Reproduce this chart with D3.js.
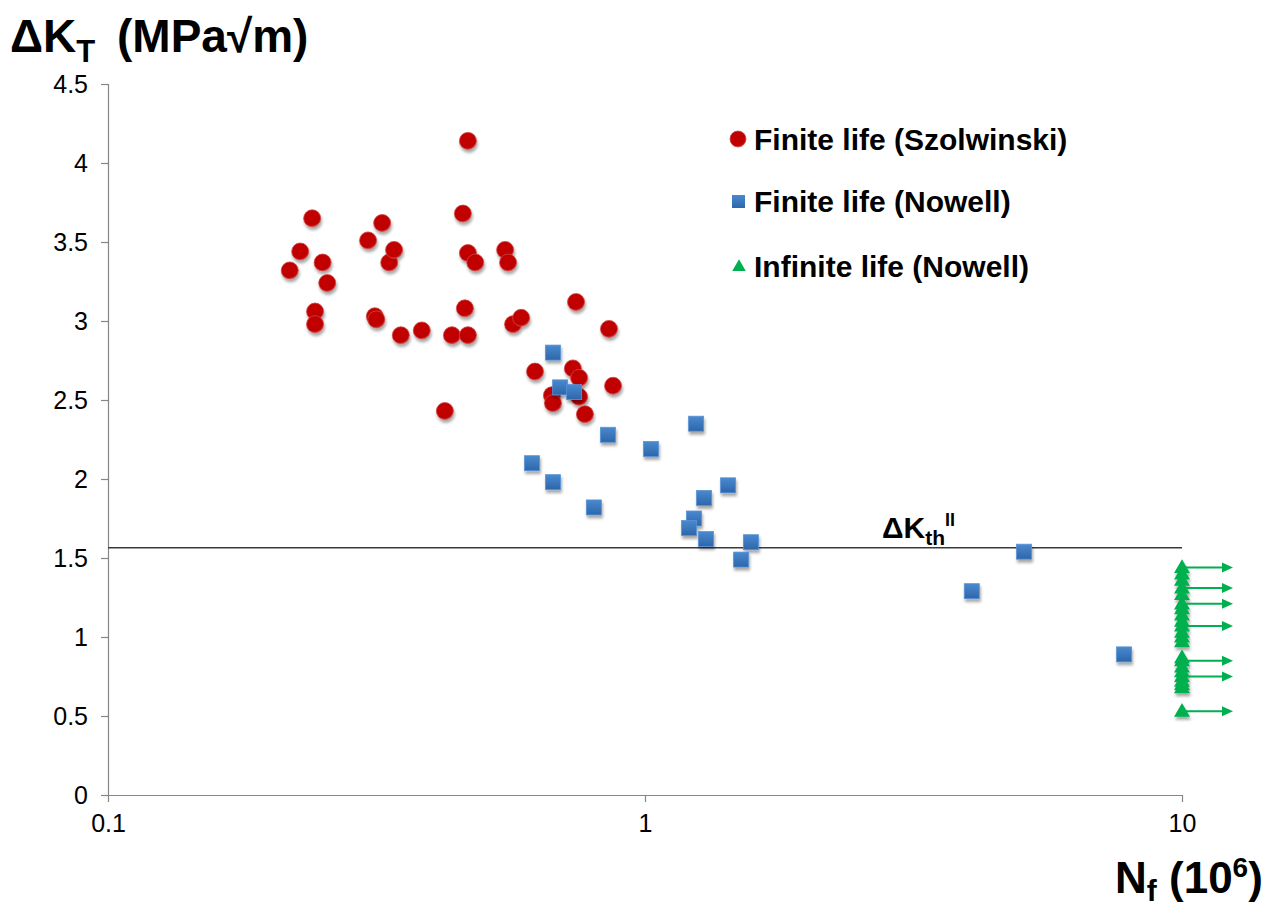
<!DOCTYPE html>
<html><head><meta charset="utf-8">
<script src="https://cdn.jsdelivr.net/npm/d3@7"></script>
<style>
body{margin:0;background:#fff;}
svg{display:block;font-family:"Liberation Sans",Arial,sans-serif;}
</style>
</head><body>
<svg id="chart" width="1272" height="908"></svg>
<script>
// ---------- data ----------
const xTicks = [0.1, 1, 10];
const xTickLabels = ["0.1", "1", "10"];
const yTicks = [0, 0.5, 1, 1.5, 2, 2.5, 3, 3.5, 4, 4.5];
const yTickLabels = ["0", "0.5", "1", "1.5", "2", "2.5", "3", "3.5", "4", "4.5"];

// Finite life (Szolwinski)
const szolwinskiN  = [0.218, 0.228, 0.240, 0.243, 0.243, 0.251, 0.256, 0.305, 0.314, 0.316, 0.324, 0.334, 0.341, 0.351, 0.384, 0.424, 0.437, 0.458, 0.462, 0.468, 0.468, 0.468, 0.483, 0.549, 0.556, 0.568, 0.588, 0.624, 0.671, 0.674, 0.734, 0.744, 0.754, 0.754, 0.773, 0.857, 0.872];
const szolwinskiDK = [3.32,  3.44,  3.65,  3.06,  2.98,  3.37,  3.24,  3.51,  3.03,  3.01,  3.62,  3.37,  3.45,  2.91,  2.94,  2.43,  2.91,  3.68,  3.08,  4.14,  3.43,  2.91,  3.37,  3.45,  3.37,  2.98,  3.02,  2.68,  2.53,  2.48,  2.70,  3.12,  2.64,  2.52,  2.41,  2.95,  2.59];

// Finite life (Nowell)
const nowellFiniteN  = [0.674, 0.695, 0.738, 0.853, 1.026, 1.245, 0.616, 0.674, 0.803, 1.428, 1.288, 1.234, 1.208, 1.299, 1.575, 1.510, 5.08, 4.06, 7.80];
const nowellFiniteDK = [2.80,  2.58,  2.55,  2.28,  2.19,  2.35,  2.10,  1.98,  1.82,  1.96,  1.88,  1.75,  1.69,  1.62,  1.60,  1.49,  1.54, 1.29, 0.89];

// Infinite life (Nowell) - run-outs at 10 x 10^6 cycles
const nowellInfiniteN  = [10, 10, 10, 10, 10, 10, 10, 10, 10, 10, 10, 10, 10, 10, 10, 10, 10, 10, 10, 10, 10, 10];
const nowellInfiniteDK = [1.44, 1.40, 1.36, 1.31, 1.27, 1.21, 1.18, 1.14, 1.10, 1.07, 1.03, 1.00, 0.97, 0.87, 0.85, 0.81, 0.78, 0.75, 0.72, 0.70, 0.68, 0.53];
const runoutDK = [1.44, 1.31, 1.21, 1.07, 0.85, 0.75, 0.53];

const thresholdDK = 1.565;
const legendLabels = ["Finite life (Szolwinski)", "Finite life (Nowell)", "Infinite life (Nowell)"];

// ---------- chart ----------
const svg = d3.select("#chart");
const x = d3.scaleLog().domain([0.1, 10]).range([108, 1182]);
const y = d3.scaleLinear().domain([0, 4.5]).range([795, 84]);

const defs = svg.append("defs");
const f = defs.append("filter").attr("id", "shadow").attr("x", "-50%").attr("y", "-50%").attr("width", "200%").attr("height", "200%");
f.append("feDropShadow").attr("dx", 1).attr("dy", 3).attr("stdDeviation", 1.6).attr("flood-color", "#000").attr("flood-opacity", 0.35);

const gRed = defs.append("radialGradient").attr("id", "redGrad").attr("cx", "45%").attr("cy", "40%").attr("r", "60%");
gRed.append("stop").attr("offset", "0%").attr("stop-color", "#c40000");
gRed.append("stop").attr("offset", "85%").attr("stop-color", "#bd0000");
gRed.append("stop").attr("offset", "100%").attr("stop-color", "#d23a3a");

const gBlue = defs.append("linearGradient").attr("id", "blueGrad").attr("x1", 0).attr("y1", 0).attr("x2", 0).attr("y2", 1);
gBlue.append("stop").attr("offset", "0%").attr("stop-color", "#4a89cf");
gBlue.append("stop").attr("offset", "100%").attr("stop-color", "#2d66aa");

// axes
const axisColor = "#868686";
const yAxis = svg.append("g").attr("transform", "translate(108,0)")
  .call(d3.axisLeft(y).tickValues(yTicks).tickFormat((d, i) => yTickLabels[i]).tickSize(7).tickPadding(13));
const xAxis = svg.append("g").attr("transform", "translate(0,795)")
  .call(d3.axisBottom(x).tickValues(xTicks).tickFormat((d, i) => xTickLabels[i]).tickSize(7).tickPadding(12));
[yAxis, xAxis].forEach(a => {
  a.select(".domain").attr("stroke", axisColor).attr("stroke-width", 1.2);
  a.selectAll(".tick line").attr("stroke", axisColor).attr("stroke-width", 1.2);
  a.selectAll("text").attr("fill", "#000").style("font-size", "25px").style("font-family", '"Liberation Sans",Arial,sans-serif');
});
// axis lines without outer ticks
xAxis.select(".domain").attr("d", `M${x(0.1)},0.5H${x(10)}`);
yAxis.select(".domain").attr("d", `M0.5,${y(4.5)}V${y(0)}`);

// threshold line
svg.append("line")
  .attr("x1", x(0.1)).attr("x2", x(10))
  .attr("y1", y(thresholdDK)).attr("y2", y(thresholdDK))
  .attr("stroke", "#3a3a3a").attr("stroke-width", 1.6);

// Szolwinski circles
const szData = szolwinskiN.map((n, i) => ({n, k: szolwinskiDK[i]}));
svg.append("g").attr("filter", "url(#shadow)").selectAll("circle").data(szData).join("circle")
  .attr("cx", d => x(d.n)).attr("cy", d => y(d.k)).attr("r", 8.5)
  .attr("fill", "url(#redGrad)").attr("stroke", "#d04545").attr("stroke-width", 0.8);

// Nowell finite squares
const nfData = nowellFiniteN.map((n, i) => ({n, k: nowellFiniteDK[i]}));
const sq = 15;
svg.append("g").attr("filter", "url(#shadow)").selectAll("rect").data(nfData).join("rect")
  .attr("x", d => x(d.n) - sq / 2).attr("y", d => y(d.k) - sq / 2)
  .attr("width", sq).attr("height", sq)
  .attr("fill", "url(#blueGrad)").attr("stroke", "#5a93d6").attr("stroke-width", 0.8);

// Nowell infinite triangles
const green = "#00b050";
const triSym = d3.symbol().type(d3.symbolTriangle).size(110);
const niData = nowellInfiniteN.map((n, i) => ({n, k: nowellInfiniteDK[i]}));
svg.append("g").attr("filter", "url(#shadow)").selectAll("path").data(niData).join("path")
  .attr("d", triSym)
  .attr("transform", d => `translate(${x(d.n)},${y(d.k) + 1})`)
  .attr("fill", green);

// run-out arrows
const arrowG = svg.append("g");
runoutDK.forEach(k => {
  const x0 = x(10), yy = y(k);
  arrowG.append("line").attr("x1", x0 + 3).attr("x2", x0 + 41).attr("y1", yy).attr("y2", yy)
    .attr("stroke", green).attr("stroke-width", 2);
  arrowG.append("path").attr("d", `M${x0 + 40},${yy - 5}L${x0 + 51},${yy}L${x0 + 40},${yy + 5}Z`).attr("fill", green);
});

// threshold label
const thLabel = svg.append("text").attr("x", 882).attr("y", 538)
  .style("font-size", "30px").style("font-weight", "bold").attr("fill", "#000");
thLabel.append("tspan").text("ΔK");
thLabel.append("tspan").attr("dy", 7).style("font-size", "21px").text("th");
thLabel.append("tspan").attr("dy", -19).style("font-size", "18px").text("II");

// y-axis title
const yTitle = svg.append("text").attr("x", 10).attr("y", 52)
  .style("font-size", "46px").style("font-weight", "bold").attr("fill", "#000");
yTitle.append("tspan").text("ΔK");
yTitle.append("tspan").attr("dy", 10).style("font-size", "31px").text("T");
yTitle.append("tspan").attr("dy", -10).attr("x", 117).text("(MPa√m)");

// x-axis title
const xTitle = svg.append("text").attr("x", 1115).attr("y", 893)
  .style("font-size", "44px").style("font-weight", "bold").attr("fill", "#000");
xTitle.append("tspan").text("N");
xTitle.append("tspan").attr("dy", 8).style("font-size", "30px").text("f");
xTitle.append("tspan").attr("dy", -8).text(" (10");
xTitle.append("tspan").attr("dy", -16).style("font-size", "28px").text("6");
xTitle.append("tspan").attr("dy", 16).text(")");

// legend
const legY = [139, 201, 266];
const leg = svg.append("g");
leg.append("circle").attr("cx", 738).attr("cy", legY[0]).attr("r", 8).attr("fill", "url(#redGrad)").attr("stroke", "#d04545").attr("stroke-width", 0.8);
leg.append("rect").attr("x", 732).attr("y", legY[1] - 6).attr("width", 13).attr("height", 13).attr("fill", "url(#blueGrad)");
leg.append("path").attr("d", d3.symbol().type(d3.symbolTriangle).size(80)).attr("transform", `translate(739,${legY[2] + 1})`).attr("fill", green);
legendLabels.forEach((t, i) => {
  leg.append("text").attr("x", 754).attr("y", legY[i]).attr("dy", "0.36em")
    .style("font-size", "30px").style("font-weight", "bold").attr("fill", "#000").text(t);
});
</script>
</body></html>
